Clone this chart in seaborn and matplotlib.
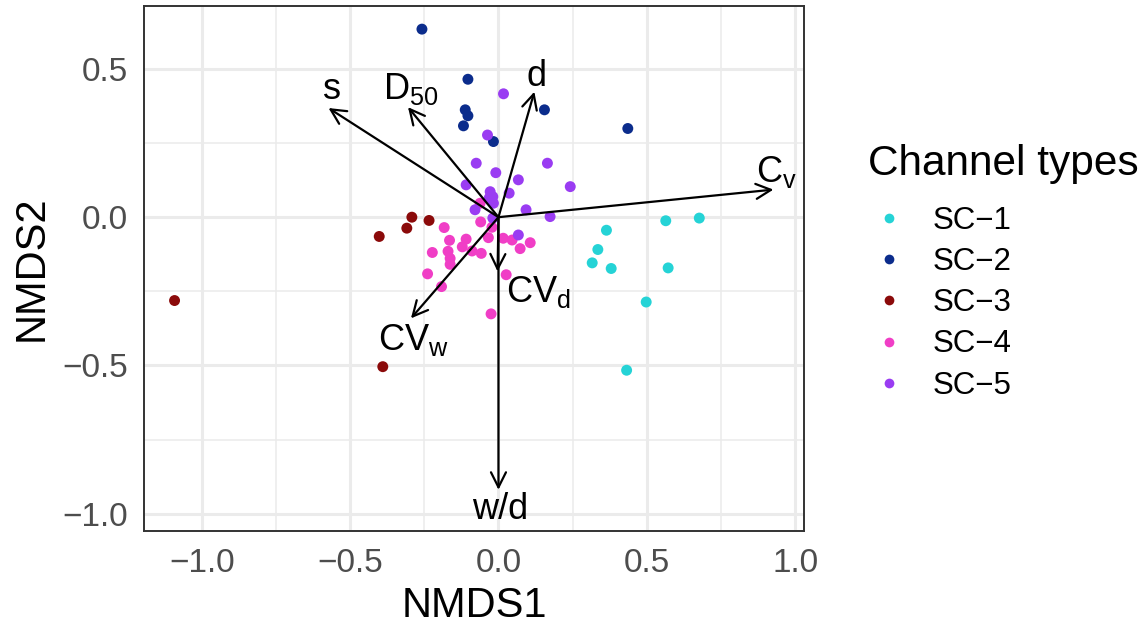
import matplotlib
matplotlib.use("Agg")
import numpy as np
import pandas as pd
import seaborn as sns
import matplotlib.pyplot as plt
from matplotlib.lines import Line2D

# ---------------- data ----------------
channel_types = ["SC-1", "SC-2", "SC-3", "SC-4", "SC-5"]
legend_labels = ["SC\u22121", "SC\u22122", "SC\u22123", "SC\u22124", "SC\u22125"]

sc1_x = [0.564, 0.677, 0.364, 0.335, 0.316, 0.380, 0.572, 0.498, 0.432]
sc1_y = [-0.012, -0.003, -0.044, -0.109, -0.154, -0.173, -0.171, -0.286, -0.516]

sc2_x = [-0.258, -0.103, -0.112, -0.103, -0.118, -0.017, 0.155, 0.436]
sc2_y = [0.634, 0.465, 0.362, 0.342, 0.308, 0.255, 0.362, 0.299]

sc3_x = [-0.292, -0.234, -0.309, -0.402, -1.092, -0.390]
sc3_y = [0.000, -0.011, -0.037, -0.065, -0.281, -0.504]

sc4_x = [-0.183, -0.165, -0.109, -0.122, -0.223, -0.170, -0.163, -0.163, -0.239,
         -0.192, -0.062, -0.060, -0.058, -0.089, -0.034, -0.022, 0.016, 0.046,
         0.073, 0.107, 0.026, -0.025]
sc4_y = [-0.035, -0.078, -0.074, -0.100, -0.119, -0.115, -0.139, -0.159, -0.191,
         -0.234, 0.047, -0.016, -0.122, -0.114, -0.069, -0.034, -0.071, -0.077,
         -0.106, -0.086, -0.194, -0.326]

sc5_x = [0.017, -0.037, -0.075, -0.009, 0.067, 0.165, 0.242, -0.109, -0.028,
         -0.019, 0.036, -0.017, 0.093, 0.174, -0.079, 0.067, -0.019, -0.031]
sc5_y = [0.416, 0.277, 0.182, 0.150, 0.126, 0.182, 0.103, 0.109, 0.086,
         0.069, 0.081, 0.047, 0.025, 0.002, 0.025, -0.060, -0.003, 0.065]

# environmental vectors
env_names = ["s", "D50", "d", "Cv", "CVd", "CVw", "w/d"]
env_labels = ["s", r"$\mathregular{D_{50}}$", "d", r"$\mathregular{C_v}$",
              r"$\mathregular{CV_d}$", r"$\mathregular{CV_w}$", "w/d"]
env_x = [-0.573, -0.305, 0.121, 0.927, -0.003, -0.295, 0.0]
env_y = [0.368, 0.371, 0.423, 0.093, -0.183, -0.341, -0.919]
label_x = [-0.562, -0.295, 0.127, 0.936, 0.134, -0.288, 0.005]
label_y = [0.429, 0.433, 0.473, 0.151, -0.251, -0.414, -0.987]

palette = ["#25D3D6", "#0B2C8C", "#8B0A0A", "#F03EC6", "#9A3CF2"]

xticks = [-1.0, -0.5, 0.0, 0.5, 1.0]
yticks = [-1.0, -0.5, 0.0, 0.5]

# ---------------- frame ----------------
xs = [sc1_x, sc2_x, sc3_x, sc4_x, sc5_x]
ys = [sc1_y, sc2_y, sc3_y, sc4_y, sc5_y]
rows = []
for name, gx, gy in zip(channel_types, xs, ys):
    for a, b in zip(gx, gy):
        rows.append({"NMDS1": a, "NMDS2": b, "type": name})
df = pd.DataFrame(rows)

# ---------------- plot ----------------
sns.set_style("white")
plt.rcParams["font.family"] = ["Liberation Sans", "DejaVu Sans"]
plt.rcParams["axes.unicode_minus"] = True
plt.rcParams["text.color"] = "black"
plt.rcParams["axes.labelcolor"] = "black"

fig = plt.figure(figsize=(11.48, 6.28), dpi=100)
ax = fig.add_axes([144 / 1148, 1 - 531 / 628, (804 - 144) / 1148, (531 - 6) / 628])

ax.set_xlim(-1.195, 1.03)
ax.set_ylim(-1.058, 0.712)

# grid (theme_bw look)
for v in [-0.75, -0.25, 0.25, 0.75]:
    ax.axvline(v, color="#EBEBEB", lw=1.1, zorder=0)
for v in [-0.75, -0.25, 0.25]:
    ax.axhline(v, color="#EBEBEB", lw=1.1, zorder=0)
for v in xticks:
    ax.axvline(v, color="#EBEBEB", lw=2.2, zorder=0)
for v in yticks:
    ax.axhline(v, color="#EBEBEB", lw=2.2, zorder=0)

sns.scatterplot(data=df, x="NMDS1", y="NMDS2", hue="type", hue_order=channel_types,
                palette=palette, s=62, linewidth=0, legend=False, ax=ax, zorder=3)

for ex, ey, lx, ly, lab in zip(env_x, env_y, label_x, label_y, env_labels):
    ax.annotate("", xy=(ex, ey), xytext=(0, 0),
                arrowprops=dict(arrowstyle="->,head_length=0.6,head_width=0.3",
                                mutation_scale=18, color="black", lw=1.6,
                                shrinkA=0, shrinkB=0), zorder=4)
    ax.text(lx, ly, lab, ha="center", va="center", fontsize=26, color="black", zorder=5)

ax.set_xticks(xticks)
ax.set_yticks(yticks)
ax.set_xticklabels([f"{t:.1f}".replace("-", "\u2212") for t in xticks])
ax.set_yticklabels([f"{t:.1f}".replace("-", "\u2212") for t in yticks])
ax.tick_params(axis="both", length=8, width=1.4, color="#333333", labelsize=24,
               labelcolor="#4D4D4D", pad=3.5, direction="out")
ax.tick_params(axis="x", pad=4)
for sp in ax.spines.values():
    sp.set_color("#333333")
    sp.set_linewidth(1.4)

ax.set_xlabel("NMDS1", fontsize=30, labelpad=5, color="black")
ax.set_ylabel("NMDS2", fontsize=30, labelpad=8, color="black")

handles = [Line2D([0], [0], marker="o", linestyle="", markersize=7,
                  markerfacecolor=c, markeredgewidth=0) for c in palette]
leg = ax.legend(handles, legend_labels, title="Channel types", loc="upper left",
                bbox_to_anchor=(855 / 1148, 1 - 131 / 628), bbox_transform=fig.transFigure,
                frameon=False, fontsize=22.5, title_fontsize=30.5, labelspacing=0.36,
                handlelength=1.4, handletextpad=0.68, borderaxespad=0)
leg._legend_box.align = "left"
leg._legend_box.sep = 16
leg.get_title().set_color("black")
for t in leg.get_texts():
    t.set_color("black")

fig.savefig("out.png", dpi=100)
